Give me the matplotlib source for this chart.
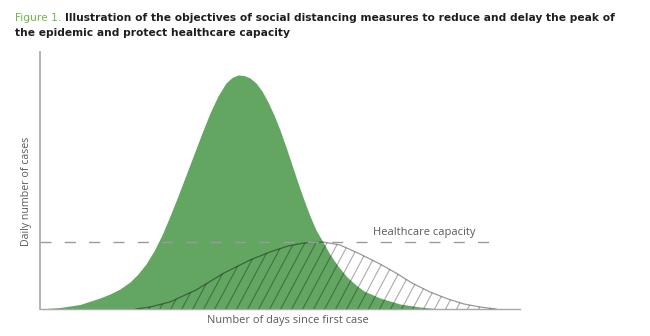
import matplotlib
matplotlib.use("Agg")
import matplotlib.pyplot as plt
import numpy as np

# Unmitigated epidemic curve (days since first case, daily cases)
no_measure_days = [0, 5, 10, 15, 17.5, 20, 22.5, 24.5, 26.5, 28.5, 30.5, 32.5, 34.5,
                   36.5, 38.5, 40.5, 42.5, 44.5, 46.5, 48, 49.5, 51, 52.5, 54, 55.5,
                   57, 58.5, 60, 61.5, 63, 64.5, 66, 67.5, 69, 70.75, 72.5, 74.5,
                   76.75, 79, 81, 85, 90, 95, 100]
no_measure_cases = [0, 1.5, 4.5, 11, 15, 20, 27, 35, 45, 58, 74, 93, 113,
                    134, 155, 176, 196, 213, 226, 231.5, 234, 233.5, 231, 226, 218,
                    207, 194, 179, 162, 144, 126, 109, 93, 79, 67, 54.5, 43,
                    32, 24, 18, 11, 5, 2, 0]

# Flattened curve with social distancing measures
measure_days = [24, 27.5, 32.5, 39, 46, 52.5, 57.5, 62, 66, 70.75, 75, 80,
                85, 89, 93, 97.5, 102, 106, 110, 114]
measure_cases = [0, 2, 7, 19, 36, 49, 57, 63, 66, 67, 64, 55,
                 45, 36, 26, 17, 10, 5, 2, 0]

capacity = 67
capacity_end = 114.5
x_max = 120
y_max = 257

GREEN = "#62a662"
TITLE_GREEN = "#6cb944"
GREY = "#9b9b9b"
TEXT = "#5a5a5a"

fig = plt.figure(figsize=(6.5, 3.36), dpi=100)
fig.patch.set_facecolor("white")
ax = fig.add_axes([40 / 650, 27 / 336, 480 / 650, 257 / 336])
ax.set_xlim(0, x_max)
ax.set_ylim(0, y_max)
ax.set_xticks([])
ax.set_yticks([])
for side in ("top", "right"):
    ax.spines[side].set_visible(False)
ax.spines["left"].set_color("#b5b5b5")
ax.spines["left"].set_linewidth(1.4)
ax.spines["bottom"].set_color("#a8a8a8")
ax.spines["bottom"].set_linewidth(1.0)

ax.fill_between(no_measure_days, no_measure_cases, 0, color=GREEN, linewidth=0, zorder=2)

# Flattened curve: outline plus steep diagonal hatching clipped to its area
flat = ax.fill_between(measure_days, measure_cases, 0, facecolor="none", linewidth=0, zorder=3)
ax.plot(measure_days, measure_cases, color="black", alpha=0.4, linewidth=0.9, zorder=4)
clip_path = flat.get_paths()[0]
rise = 0.285  # horizontal run (axes fraction) over the full axes height
for x0 in np.arange(-0.3, 1.0, 0.0229):
    (hatch,) = ax.plot([x0, x0 + rise], [0, 1], transform=ax.transAxes,
                       color="black", alpha=0.33, linewidth=0.8, zorder=3)
    hatch.set_clip_path(clip_path, ax.transData)

ax.plot([0, capacity_end], [capacity, capacity], color=GREY, linewidth=1.0,
        dashes=(8, 9.5), zorder=5)
ax.text(96, capacity + 10, "Healthcare capacity", color=TEXT, fontsize=8,
        family="Open Sans", ha="center", va="center", zorder=6)

fig.text(288 / 650, 1 - 321 / 336, "Number of days since first case", color=TEXT,
         fontsize=7.9, family="Open Sans", ha="center", va="center")
fig.text(27 / 650, 1 - 191 / 336, "Daily number of cases", color=TEXT,
         fontsize=7.7, family="Open Sans", rotation=90, ha="center", va="center")

# Two-line caption; "Figure 1." is drawn in green ahead of the bold text
renderer = fig.canvas.get_renderer()
lead = fig.text(15 / 650, 1 - 18 / 336, "Figure 1.", color=TITLE_GREEN,
                fontsize=7.7, ha="left", va="center")
lead_box = lead.get_window_extent(renderer)
fig.text((lead_box.x1 + 4) / 650, 1 - 18 / 336,
         "Illustration of the objectives of social distancing measures to reduce and delay the peak of",
         color="#1e1e1e", fontsize=7.7, fontweight="bold", ha="left", va="center")
fig.text(15 / 650, 1 - 32.5 / 336, "the epidemic and protect healthcare capacity",
         color="#1e1e1e", fontsize=7.7, fontweight="bold", ha="left", va="center")

fig.savefig("out.png", dpi=100)
